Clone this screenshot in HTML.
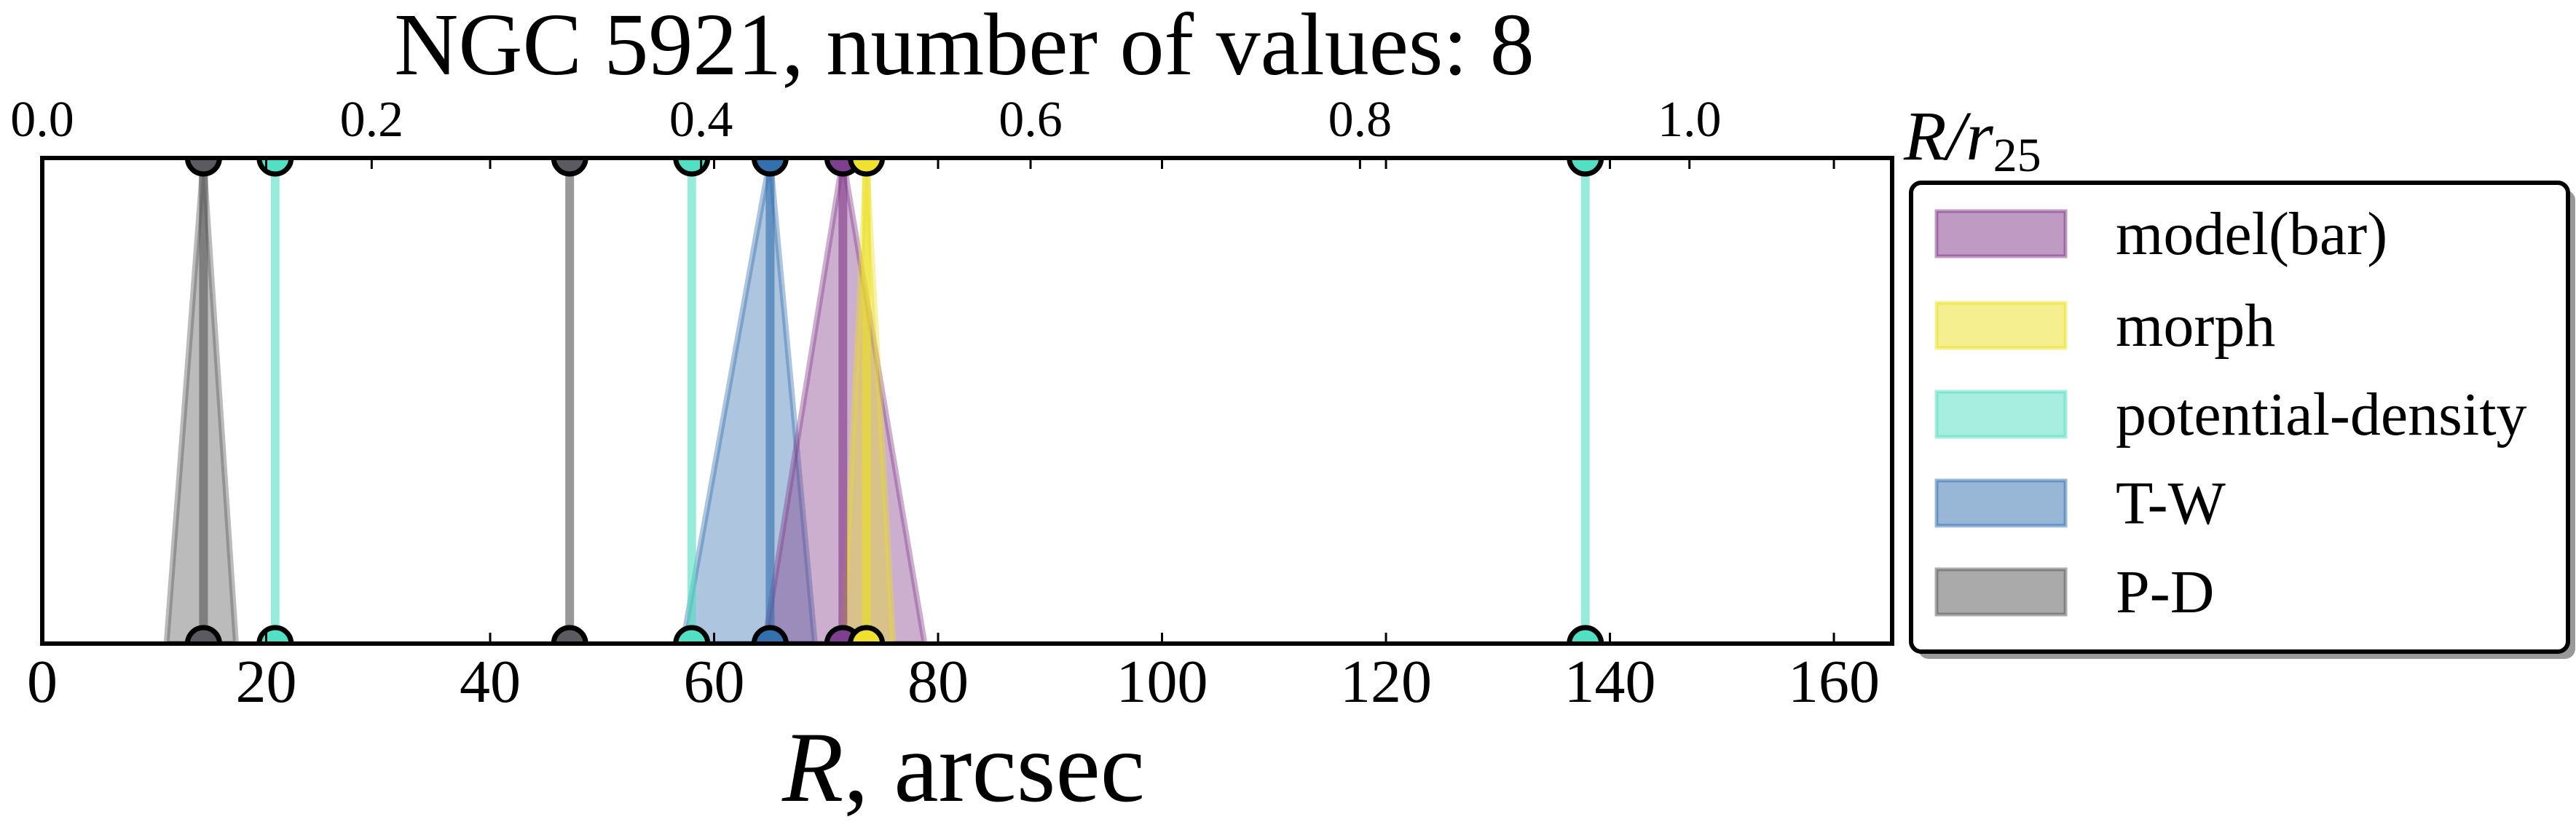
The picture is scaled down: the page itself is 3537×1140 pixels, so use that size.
<!DOCTYPE html>
<html><head><meta charset="utf-8"><style>
body{margin:0;background:#fff;}
svg{display:block;font-family:"Liberation Serif",serif;}
</style></head><body>
<svg id="chart" width="3537" height="1140" viewBox="0 0 3537 1140">
<defs><clipPath id="plotclip"><rect x="58" y="217" width="2540" height="667"/></clipPath></defs>
<text x="1324" y="102" font-size="122" text-anchor="middle">NGC 5921, number of values: 8</text>
<g id="marks" clip-path="url(#plotclip)"></g>
<rect x="58" y="217" width="2540" height="667" fill="none" stroke="#000" stroke-width="6"/>
<g id="axes"></g>
<text x="1323" y="1100" font-size="138" text-anchor="middle"><tspan font-style="italic">R</tspan>, arcsec</text>
<text x="2614" y="219" font-size="96" font-style="italic">R/r<tspan font-size="66" dy="16" font-style="normal">25</tspan></text>
<g>
<rect x="2634" y="261" width="902" height="644" rx="14" fill="#999"/>
<rect x="2624" y="251" width="902" height="644" rx="14" fill="#fff" stroke="#000" stroke-width="6"/>
<g id="legend-items"></g>
</g>
</svg>
<script>
const seriesNames = ["model(bar)", "morph", "potential-density", "T-W", "P-D"];
const seriesColors = ["#7f3787", "#ebdf21", "#51ddc1", "#316dad", "#555555"];
const markerColors = ["#7f3f8f", "#f0e130", "#52e0c4", "#3470ae", "#5a5a60"];
const valSeries = [4, 2, 4, 2, 3, 0, 1, 2];
const valCenter = [14.4, 20.8, 47.1, 58.0, 65.0, 71.5, 73.6, 137.8];
const valLo = [11.1, null, null, null, 57.2, 64.5, 71.5, null];
const valHi = [17.3, null, null, null, 69.0, 78.8, 76.0, null];
const xTicks = [0, 20, 40, 60, 80, 100, 120, 140, 160];
const topTicks = [0.0, 0.2, 0.4, 0.6, 0.8, 1.0];
const topTickLabels = ["0.0", "0.2", "0.4", "0.6", "0.8", "1.0"];
const r25 = 147.1;

const X0 = 58, X1 = 2598, Y0 = 217, Y1 = 884, XMAX = 165.2;
const xs = v => X0 + v / XMAX * (X1 - X0);
const NS = "http://www.w3.org/2000/svg";
function mk(tag, attrs, parent) { const e = document.createElementNS(NS, tag); for (const k in attrs) e.setAttribute(k, attrs[k]); parent.appendChild(e); return e; }
const marks = document.getElementById('marks');
const axes = document.getElementById('axes');

for (let i = 0; i < valCenter.length; i++) {
  if (valLo[i] === null) continue;
  const c = seriesColors[valSeries[i]];
  const p = mk('polygon', {points: `${xs(valLo[i])},${Y1} ${xs(valCenter[i])},${Y0} ${xs(valHi[i])},${Y1}`, fill: c, 'fill-opacity': 0.4, stroke: c, 'stroke-opacity': 0.4, 'stroke-width': 8}, marks);
  
  
}
for (let i = 0; i < valCenter.length; i++) {
  const c = seriesColors[valSeries[i]];
  const l = mk('line', {x1: xs(valCenter[i]), x2: xs(valCenter[i]), y1: Y0, y2: Y1, stroke: c, 'stroke-opacity': 0.6, 'stroke-width': 12}, marks);
  
  
}
for (let i = 0; i < valCenter.length; i++) {
  for (const y of [Y0, Y1]) {
    const m = mk('circle', {cx: xs(valCenter[i]), cy: y, r: 22, fill: markerColors[valSeries[i]], stroke: '#000', 'stroke-width': 7}, marks);
    
    
  }
}
xTicks.forEach(t => {
  const x = xs(t);
  mk('line', {x1: x, x2: x, y1: Y1, y2: Y1 - 15, stroke: '#000', 'stroke-width': 3}, axes);
  mk('line', {x1: x, x2: x, y1: Y0, y2: Y0 + 15, stroke: '#000', 'stroke-width': 3}, axes);
  const tx = mk('text', {x: x, y: 964, 'font-size': 84, 'text-anchor': 'middle'}, axes);
  tx.textContent = t;
  
  
});
topTicks.forEach((t, i) => {
  const x = xs(t * r25);
  mk('line', {x1: x, x2: x, y1: Y0, y2: Y0 + 15, stroke: '#000', 'stroke-width': 3}, axes);
  const tx = mk('text', {x: x, y: 187, 'font-size': 70, 'text-anchor': 'middle'}, axes);
  tx.textContent = topTickLabels[i];
  
  
});
const lg = document.getElementById('legend-items');
const rowY = [321, 447, 569, 691, 813];
seriesNames.forEach((n, i) => {
  const c = seriesColors[i];
  const r = mk('rect', {x: 2659, y: rowY[i] - 31, width: 177, height: 62, fill: c, 'fill-opacity': 0.5, stroke: c, 'stroke-opacity': 0.5, 'stroke-width': 5}, lg);
  
  
  const t = mk('text', {x: 2905, y: rowY[i] + 28, 'font-size': 84}, lg);
  t.textContent = n;
  
  
});
</script>
</body></html>
